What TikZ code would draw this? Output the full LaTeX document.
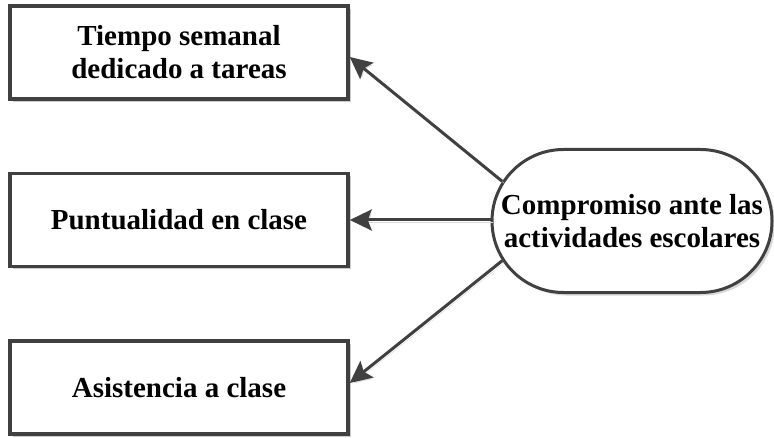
\documentclass[tikz,border=0pt]{standalone}
\usepackage{fontspec}
\setmainfont{Liberation Serif}
\usetikzlibrary{arrows.meta,shapes.misc,shadows}
\definecolor{linegray}{HTML}{404040}
\begin{document}
\begin{tikzpicture}[x=1pt,y=1pt,
  txt/.style={font=\fontsize{29}{33}\selectfont\bfseries, text=black, align=center},
  box/.style={txt, draw=linegray, line width=3.5pt, fill=white, rectangle,
    minimum width=338pt, minimum height=93pt, inner sep=0pt,
    drop shadow={shadow xshift=3pt, shadow yshift=-3pt, fill=black!20, opacity=1}},
  stadium/.style={txt, draw=linegray, line width=3pt, fill=white, rounded rectangle,
    minimum width=280pt, minimum height=143pt, inner sep=0pt,
    drop shadow={shadow xshift=3pt, shadow yshift=-3pt, fill=black!15, opacity=1}},
  arr/.style={draw=linegray, line width=3pt,
    -{Stealth[length=22pt,width=21pt,inset=4pt]},
    preaction={draw=black!15, transform canvas={xshift=2pt,yshift=-2pt}}}
]
\useasboundingbox (0,0) rectangle (774,437);
\node[box] (t1) at (179,384.5) {Tiempo semanal\\dedicado a tareas};
\node[box] (t2) at (179,217) {Puntualidad en clase};
\node[box] (t3) at (179,49.5) {Asistencia a clase};
\node[stadium] (e) at (632,216) {Compromiso ante las\\actividades escolares};
\draw[arr] (e.163) -- ([yshift=-4.5pt]t1.east);
\draw[arr] (t2.east -| e.west) -- (t2.east);
\draw[arr] (e.197) -- ([yshift=4.5pt]t3.east);
\end{tikzpicture}
\end{document}
